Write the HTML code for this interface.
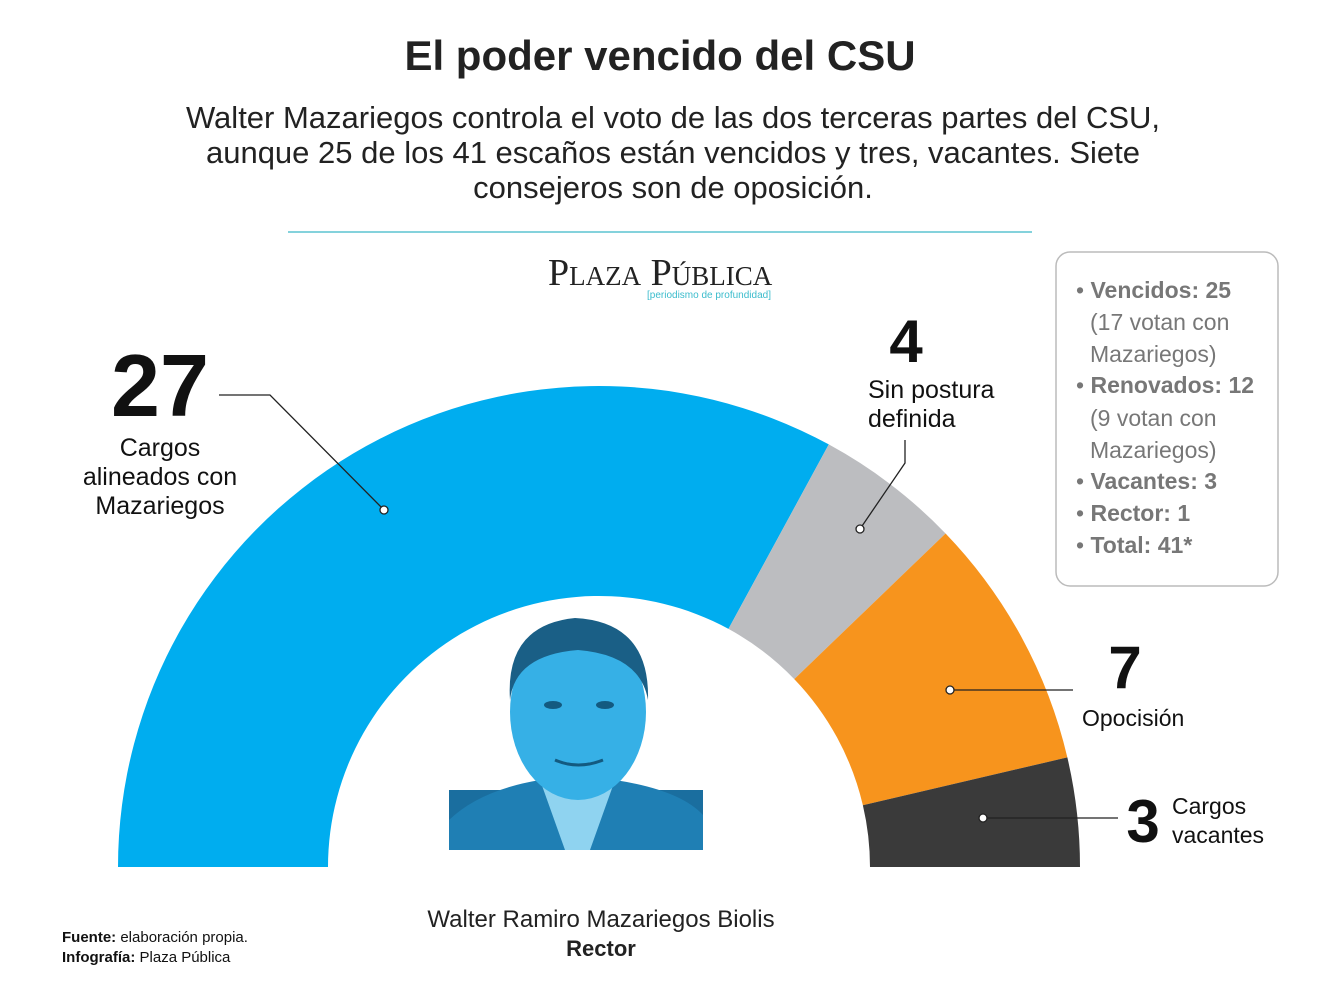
<!DOCTYPE html>
<html><head><meta charset="utf-8"><style>
body{margin:0;background:#fff;width:1334px;height:998px;overflow:hidden;font-family:"Liberation Sans",sans-serif;}
</style></head><body>
<svg width="1334" height="998" viewBox="0 0 1334 998" xmlns="http://www.w3.org/2000/svg">
<text x="660" y="70" text-anchor="middle" font-family="Liberation Sans" font-weight="bold" font-size="42" fill="#222">El poder vencido del CSU</text>
<g font-family="Liberation Sans" font-size="31" fill="#222" text-anchor="middle">
<text x="673" y="128">Walter Mazariegos controla el voto de las dos terceras partes del CSU,</text>
<text x="673" y="163">aunque 25 de los 41 escaños están vencidos y tres, vacantes. Siete</text>
<text x="673" y="198">consejeros son de oposición.</text>
</g>
<line x1="288" y1="232" x2="1032" y2="232" stroke="#5bc4d1" stroke-width="1.5"/>
<g>
<text x="548" y="285" font-family="Liberation Serif" font-size="38" fill="#222">P<tspan font-size="27">LAZA</tspan> P<tspan font-size="27">ÚBLICA</tspan></text>
<text x="709" y="298" text-anchor="middle" font-family="Liberation Sans" font-size="10" fill="#3bbccc">[periodismo de profundidad]</text>
</g>
<g id="arcs"></g>
<g>
<rect x="449" y="790" width="254" height="60" fill="#1a6e9f"/>
<path d="M449 850 L449 820 Q480 790 540 780 L615 780 Q680 790 703 815 L703 850 Z" fill="#1f7fb4"/>
<path d="M540 780 L565 850 L590 850 L615 780 Z" fill="#8fd3f0"/>
<ellipse cx="578" cy="712" rx="68" ry="88" fill="#36b0e6"/>
<path d="M510 700 Q505 625 575 618 Q650 622 648 700 Q640 655 578 650 Q515 655 510 700 Z" fill="#1a5f86"/>
<ellipse cx="553" cy="705" rx="9" ry="4" fill="#135a80"/><ellipse cx="605" cy="705" rx="9" ry="4" fill="#135a80"/>
<path d="M555 760 Q578 770 603 760" stroke="#135a80" stroke-width="3" fill="none"/>
</g>
<g font-family="Liberation Sans" fill="#111">
<text x="160" y="416" text-anchor="middle" font-weight="bold" font-size="88">27</text>
<g font-size="25" text-anchor="middle"><text x="160" y="456">Cargos</text><text x="160" y="485">alineados con</text><text x="160" y="514">Mazariegos</text></g>
<text x="906" y="362" text-anchor="middle" font-weight="bold" font-size="60">4</text>
<g font-size="25"><text x="868" y="398">Sin postura</text><text x="868" y="427">definida</text></g>
<text x="1125" y="688" text-anchor="middle" font-weight="bold" font-size="60">7</text>
<text x="1082" y="726" font-size="23">Opocisión</text>
<text x="1143" y="842" text-anchor="middle" font-weight="bold" font-size="60">3</text>
<g font-size="23"><text x="1172" y="814">Cargos</text><text x="1172" y="843">vacantes</text></g>
</g>
<g stroke="#222" stroke-width="1.3" fill="none">
<polyline points="219,395 270,395 384,510"/>
<polyline points="905,440 905,463 860,529"/>
<polyline points="950,690 1073,690"/>
<polyline points="983,818 1118,818"/>
</g>
<g fill="#fff" stroke="#222" stroke-width="1.3">
<circle cx="384" cy="510" r="4"/><circle cx="860" cy="529" r="4"/><circle cx="950" cy="690" r="4"/><circle cx="983" cy="818" r="4"/>
</g>
<rect x="1056" y="252" width="222" height="334" rx="14" fill="#fff" stroke="#bbb" stroke-width="1.5"/>
<g font-family="Liberation Sans" font-size="23" fill="#777">
<text x="1076" y="298">• <tspan font-weight="bold">Vencidos: 25</tspan></text>
<text x="1090" y="330">(17 votan con</text><text x="1090" y="362">Mazariegos)</text>
<text x="1076" y="393">• <tspan font-weight="bold">Renovados: 12</tspan></text>
<text x="1090" y="426">(9 votan con</text><text x="1090" y="458">Mazariegos)</text>
<text x="1076" y="489">• <tspan font-weight="bold">Vacantes: 3</tspan></text>
<text x="1076" y="521">• <tspan font-weight="bold">Rector: 1</tspan></text>
<text x="1076" y="553">• <tspan font-weight="bold">Total: 41*</tspan></text>
</g>
<g font-family="Liberation Sans" fill="#222" text-anchor="middle">
<text x="601" y="927" font-size="24">Walter Ramiro Mazariegos Biolis</text>
<text x="601" y="956" font-size="22" font-weight="bold">Rector</text>
</g>
<g font-family="Liberation Sans" font-size="15" fill="#111">
<text x="62" y="942"><tspan font-weight="bold">Fuente:</tspan> elaboración propia.</text>
<text x="62" y="962"><tspan font-weight="bold">Infografía:</tspan> Plaza Pública</text>
</g>
</svg>
<script>
const categories = ["Alineados", "Sin postura", "Oposición", "Vacantes"];
const seatValues = [27, 4, 7, 3];
const seatColors = ["#00adef", "#bcbdc0", "#f7941d", "#3a3a3a"];
const cx = 599, cy = 867, rOut = 481, rIn = 271;
const total = seatValues.reduce((a, b) => a + b, 0);
function angleFor(v) { return Math.PI - v / total * Math.PI; }
function pt(r, a) { return [cx + r * Math.cos(a), cy - r * Math.sin(a)]; }
const g = document.getElementById('arcs');
let cum = 0;
seatValues.forEach((v, i) => {
  const a0 = angleFor(cum), a1 = angleFor(cum + v);
  cum += v;
  const p0 = pt(rOut, a0), p1 = pt(rOut, a1), p2 = pt(rIn, a1), p3 = pt(rIn, a0);
  const large = (a0 - a1) > Math.PI ? 1 : 0;
  const d = `M${p0} A${rOut},${rOut} 0 ${large} 1 ${p1} L${p2} A${rIn},${rIn} 0 ${large} 0 ${p3} Z`;
  const path = document.createElementNS('http://www.w3.org/2000/svg', 'path');
  path.setAttribute('d', d);
  path.setAttribute('fill', seatColors[i]);
  
  
  g.appendChild(path);
});
</script>
</body></html>
